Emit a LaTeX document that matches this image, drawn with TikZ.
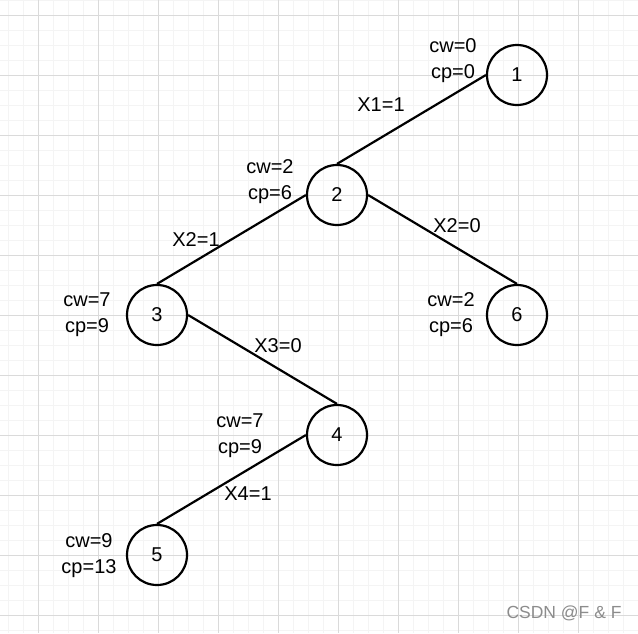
\documentclass[tikz,border=0pt]{standalone}
\usepackage{fontspec}
\setmainfont{Liberation Sans}
\begin{document}
\begin{tikzpicture}[x=1pt,y=-1pt,
  tnode/.style={circle,draw=black,line width=2.2pt,minimum size=60pt,inner sep=0pt,font=\fontsize{20}{24}\selectfont},
  edge/.style={draw=black,line width=2.2pt},
  lbl/.style={font=\fontsize{20}{26}\selectfont,align=center,inner sep=0pt},
  minorgrid/.style={draw={rgb,255:red,244;green,244;blue,244},line width=1pt},
  majorgrid/.style={draw={rgb,255:red,218;green,218;blue,218},line width=1pt}]
\useasboundingbox (0,0) rectangle (638,633);
\fill[white] (0,0) rectangle (638,633);
% grid
\foreach \k in {0,...,42}{
  \draw[minorgrid] ({8+15*\k},0) -- ({8+15*\k},633);
  \draw[minorgrid] (0,{15*\k}) -- (638,{15*\k});
}
\foreach \k in {0,...,10}{
  \draw[majorgrid] ({38+60*\k},0) -- ({38+60*\k},633);
  \draw[majorgrid] (0,{15+60*\k}) -- (638,{15+60*\k});
}
% nodes
\node[tnode] (n1) at (517,75) {1};
\node[tnode] (n2) at (337,195) {2};
\node[tnode] (n3) at (157,315) {3};
\node[tnode] (n6) at (517,315) {6};
\node[tnode] (n4) at (337,435) {4};
\node[tnode] (n5) at (157,555) {5};
% edges
\draw[edge] (n2.north) -- (n1.west);
\draw[edge] (n2.west) -- (n3.north);
\draw[edge] (n2.east) -- (n6.north);
\draw[edge] (n3.east) -- (n4.north);
\draw[edge] (n4.west) -- (n5.north);
% state labels
\node[lbl] (s1) at (453,61) {cw=0\\cp=0};
\node[lbl] (s2) at (270,182) {cw=2\\cp=6};
\node[lbl] (s3) at (87,315) {cw=7\\cp=9};
\node[lbl] (s6) at (451,315) {cw=2\\cp=6};
\node[lbl] (s4) at (240,436) {cw=7\\cp=9};
\node[lbl] (s5) at (89,556) {cw=9\\cp=13};
% edge labels
\node[lbl] (e12) at (381,105) {X1=1};
\node[lbl] (e23) at (196,240) {X2=1};
\node[lbl] (e26) at (457,226) {X2=0};
\node[lbl] (e34) at (278,346) {X3=0};
\node[lbl] (e45) at (248,494) {X4=1};
% watermark
\node[font=\fontsize{17.5}{20}\selectfont,text={rgb,255:red,140;green,140;blue,140},inner sep=0pt] (wm) at (564,613) {CSDN @F \& F};
\end{tikzpicture}
\end{document}
